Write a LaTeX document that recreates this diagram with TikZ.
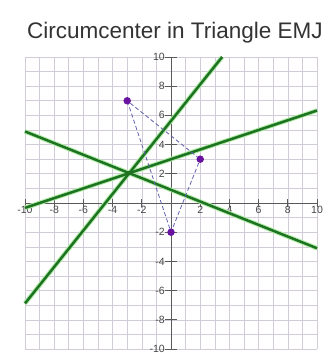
\documentclass[tikz,border=0pt]{standalone}
\usepackage{fontspec}
\setmainfont{Liberation Sans}
\definecolor{gridc}{RGB}{210,204,216}
\definecolor{axisc}{RGB}{90,90,90}
\definecolor{lineg}{RGB}{30,115,35}
\definecolor{glowg}{RGB}{175,235,165}
\definecolor{ptc}{RGB}{105,20,160}
\definecolor{dashc}{RGB}{95,95,175}
\definecolor{labc}{RGB}{70,70,70}
\begin{document}
\begin{tikzpicture}[x=14.6pt,y=14.6pt,
  gridline/.style={gridc, line width=0.6pt},
  axisline/.style={axisc, line width=0.8pt},
  bisect/.style={lineg, line width=2.5pt},
  glow/.style={glowg, line width=4.5pt},
  vert/.style={circle, fill=ptc, inner sep=0pt, minimum size=7.5pt},
  ccen/.style={circle, fill=lineg, inner sep=0pt, minimum size=4.5pt},
  tri/.style={dashc, line width=0.8pt, dash pattern=on 4pt off 2.5pt},
  lab/.style={labc, font=\fontsize{10.5}{10.5}\selectfont, inner sep=1pt}]
\useasboundingbox (-11.71,-10.27) rectangle (10.68,13.9);
% grid
\foreach \i in {-10,...,10} {
  \draw[gridline] (\i,-10) -- (\i,10);
  \draw[gridline] (-10,\i) -- (10,\i);
}
% axes
\draw[axisline] (-10,0) -- (10,0);
\draw[axisline] (0,-10) -- (0,10);
\foreach \v in {-10,-8,-6,-4,-2,2,4,6,8,10} {
  \draw[axisline] (\v,-0.3) -- (\v,0.3);
  \draw[axisline] (-0.4,\v) -- (0.4,\v);
  \node[lab, below] (xl\v) at (\v,-0.15) {\v};
  \node[lab, left] (yl\v) at (-0.35,\v) {\v};
}
% title
\node[font=\fontsize{22.5}{22.5}\selectfont, text=black!80] (title) at (0.27,11.64) {Circumcenter in Triangle EMJ};
% bisector end points
\coordinate (p1a) at (-10,-0.3333);
\coordinate (p1b) at (10,6.3333);
\coordinate (p2a) at (-10,-6.875);
\coordinate (p2b) at (3.5,10);
\coordinate (p3a) at (-10,4.9);
\coordinate (p3b) at (10,-3.1);
\foreach \a/\b in {p1a/p1b,p2a/p2b,p3a/p3b} \draw[glow] (\a) -- (\b);
\foreach \a/\b in {p1a/p1b,p2a/p2b,p3a/p3b} \draw[bisect] (\a) -- (\b);
% triangle vertices
\node[vert] (E) at (-3,7) {};
\node[vert] (M) at (2,3) {};
\node[vert] (J) at (0,-2) {};
\draw[tri] (E) -- (M);
\draw[tri] (M) -- (J);
\draw[tri] (J) -- (E);
% circumcenter
\node[ccen] (O) at (-2.864,2.045) {};
\end{tikzpicture}
\end{document}
